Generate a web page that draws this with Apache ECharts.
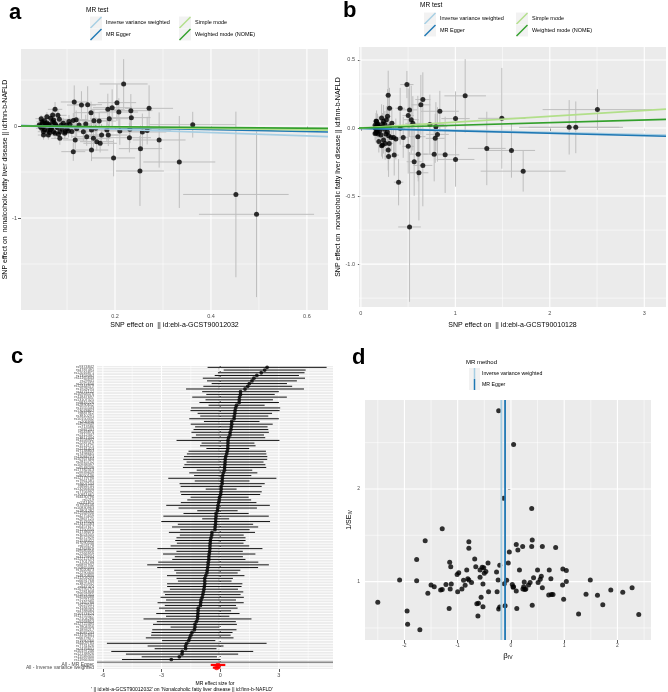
<!doctype html>
<html>
<head>
<meta charset="utf-8">
<title>MR plots</title>
<script src="https://cdn.jsdelivr.net/npm/echarts@6/dist/echarts.min.js"></script>
<style>
  html, body { margin: 0; padding: 0; background: #fff; }
  #main { width: 668px; height: 692px; }
</style>
</head>
<body>
<div id="main"></div>
<script>
// ---- panel a : SNP effects, GCST90012032 -> NAFLD
var aBx = [0.218,0.115,0.130,0.143,0.075,0.150,0.185,0.194,0.204,0.208,
  0.188,0.233,0.234,0.081,0.084,0.046,0.053,0.066,0.072,0.073,
  0.058,0.119,0.139,0.156,0.167,0.134,0.151,0.160,0.183,0.210,
  0.231,0.078,0.092,0.099,0.106,0.047,0.051,0.065,0.072,0.075,
  0.085,0.096,0.103,0.117,0.085,0.061,0.051,0.141,0.155,0.172,
  0.186,0.162,0.169,0.113,0.151,0.197,0.230,0.271,0.362,0.257,
  0.267,0.292,0.253,0.252,0.334,0.452,0.495,0.042,0.050,0.055,
  0.060,0.063,0.068,0.070,0.080,0.082,0.088,0.090,0.095,0.100,
  0.104,0.110,0.058,0.070,0.048,0.053,0.064,0.120,0.125,0.113,
  0.044,0.056,0.062,0.067,0.076,0.049];
var aBy = [0.457,0.261,0.228,0.232,0.181,0.145,0.181,0.199,0.254,0.152,
  0.080,0.167,0.091,0.116,0.073,0.080,0.058,0.083,0.065,0.036,
  0.033,0.069,0.022,0.058,0.054,-0.062,-0.043,-0.025,-0.043,-0.054,
  -0.036,0.000,0.029,0.011,0.018,-0.025,-0.062,-0.043,-0.062,-0.080,
  -0.062,-0.062,-0.054,-0.152,-0.134,-0.098,-0.098,-0.116,-0.134,-0.098,
  -0.098,-0.170,-0.188,-0.279,-0.261,-0.347,-0.127,0.192,0.014,-0.065,
  -0.050,-0.152,-0.246,-0.489,-0.391,-0.744,-0.960,0.010,-0.010,0.025,
  -0.050,0.005,-0.025,0.045,-0.020,-0.090,0.010,-0.035,-0.080,-0.030,
  0.050,-0.060,0.100,0.120,0.045,-0.040,-0.070,-0.030,0.010,0.060,
  -0.005,0.005,0.020,-0.010,0.015,0.030];
var aSx = [0.050,0.028,0.030,0.030,0.015,0.035,0.035,0.040,0.040,0.040,
  0.040,0.045,0.040,0.018,0.018,0.012,0.013,0.015,0.015,0.016,
  0.013,0.025,0.030,0.035,0.035,0.030,0.035,0.035,0.040,0.040,
  0.045,0.016,0.020,0.020,0.022,0.012,0.012,0.014,0.015,0.016,
  0.018,0.020,0.022,0.025,0.018,0.014,0.012,0.030,0.035,0.035,
  0.040,0.035,0.035,0.025,0.035,0.045,0.045,0.050,0.090,0.050,
  0.050,0.055,0.045,0.050,0.075,0.110,0.120,0.010,0.012,0.012,
  0.013,0.014,0.015,0.015,0.017,0.018,0.018,0.019,0.020,0.021,
  0.022,0.023,0.013,0.015,0.012,0.012,0.014,0.025,0.026,0.024,
  0.010,0.012,0.013,0.014,0.016,0.011];
var aSy = [0.27,0.18,0.15,0.20,0.08,0.12,0.17,0.20,0.20,0.15,
  0.14,0.18,0.12,0.06,0.06,0.04,0.05,0.05,0.05,0.05,
  0.04,0.10,0.10,0.12,0.10,0.10,0.10,0.12,0.12,0.15,
  0.15,0.05,0.06,0.06,0.07,0.04,0.05,0.05,0.05,0.06,
  0.06,0.06,0.07,0.10,0.07,0.05,0.05,0.10,0.10,0.12,
  0.12,0.10,0.10,0.10,0.12,0.20,0.16,0.25,0.14,0.20,
  0.15,0.30,0.25,0.38,0.50,0.90,0.90,0.04,0.04,0.04,
  0.05,0.05,0.05,0.05,0.05,0.06,0.06,0.06,0.06,0.07,
  0.07,0.07,0.05,0.06,0.04,0.04,0.05,0.08,0.08,0.08,
  0.04,0.04,0.04,0.05,0.05,0.04];

var mrTests = ['Inverse variance weighted', 'MR Egger', 'Simple mode', 'Weighted mode (NOME)'];
var mrColors = ['#a6cee3', '#1f78b4', '#b2df8a', '#33a02c'];
var aIntercept = [0, 0.005, 0, 0];
var aSlope = [-0.18, -0.11, -0.07, -0.04];

// ---- panel b : SNP effects, GCST90010128 -> NAFLD
var bBx = [0.487,0.289,1.104,0.656,0.635,2.504,0.416,0.303,0.515,0.836,
  0.501,0.282,1.002,1.492,0.533,0.550,0.730,0.794,2.205,2.275,
  0.219,0.240,0.166,0.176,0.254,0.328,0.416,0.222,0.159,0.183,
  0.212,0.265,0.293,0.448,0.346,0.370,0.811,0.787,0.240,0.257,
  0.229,0.300,0.289,0.293,0.353,0.501,0.603,0.607,0.776,0.892,
  1.002,1.333,1.594,1.718,0.564,0.656,0.614,0.399,0.515,0.150,
  0.160,0.170,0.180,0.160,0.200,0.190,0.150,0.170,0.210,0.230,
  0.250,0.280,0.300,0.320,0.270,0.190,0.220,0.155,0.165,0.175];
var bBy = [0.319,0.241,0.236,0.209,0.170,0.135,0.145,0.145,0.133,0.123,
  0.091,0.086,0.069,0.071,0.061,0.034,0.025,0.010,0.005,0.005,
  0.074,0.049,0.049,0.025,0.025,0.034,-0.002,0.005,-0.037,-0.044,
  -0.052,-0.044,-0.057,-0.069,-0.069,-0.081,-0.047,-0.076,-0.088,-0.113,
  -0.125,-0.113,-0.162,-0.209,-0.199,-0.135,-0.064,-0.192,-0.192,-0.197,
  -0.231,-0.150,-0.165,-0.317,-0.248,-0.275,-0.329,-0.398,-0.727,0.020,
  -0.010,0.000,0.030,0.050,-0.020,0.010,-0.040,-0.030,0.000,0.030,
  -0.010,-0.030,0.010,-0.070,0.060,-0.100,-0.130,0.000,0.015,-0.015];
var bSx = [0.07,0.03,0.22,0.08,0.10,0.58,0.05,0.04,0.08,0.20,
  0.06,0.04,0.15,0.25,0.08,0.08,0.15,0.12,0.53,0.50,
  0.03,0.03,0.02,0.02,0.03,0.04,0.05,0.03,0.02,0.02,
  0.03,0.03,0.03,0.05,0.05,0.05,0.12,0.10,0.03,0.03,
  0.03,0.04,0.04,0.04,0.05,0.06,0.08,0.10,0.12,0.15,
  0.20,0.20,0.25,0.45,0.08,0.10,0.10,0.05,0.12,0.02,
  0.02,0.02,0.02,0.02,0.025,0.025,0.02,0.02,0.025,0.03,
  0.03,0.03,0.035,0.04,0.03,0.025,0.03,0.02,0.02,0.02];
var bSy = [0.10,0.18,0.27,0.20,0.22,0.15,0.15,0.15,0.20,0.15,
  0.20,0.20,0.20,0.37,0.25,0.20,0.22,0.18,0.20,0.19,
  0.10,0.12,0.08,0.08,0.10,0.12,0.12,0.08,0.07,0.08,
  0.08,0.10,0.12,0.15,0.12,0.15,0.20,0.18,0.10,0.12,
  0.10,0.12,0.15,0.15,0.15,0.20,0.30,0.20,0.20,0.28,
  0.20,0.27,0.20,0.15,0.25,0.30,0.35,0.17,0.55,0.05,
  0.05,0.05,0.06,0.06,0.06,0.06,0.05,0.05,0.07,0.08,
  0.08,0.10,0.10,0.10,0.10,0.08,0.08,0.05,0.05,0.05];
var bIntercept = [0, -0.003, 0, 0];
var bSlope = [-0.016, -0.018, 0.043, 0.0195];

// ---- panels c and d : single-SNP Wald ratios (GCST90012032 -> NAFLD)
var snpIds = ['rs11966300','rs11589300','rs12138926','rs10197246','rs2476601','rs7731626','rs4409785','rs1990760','rs6679677','rs13192841',
  'rs3087243','rs1893217','rs7804356','rs12722495','rs9268853','rs2104286','rs11755527','rs4788084','rs10774624','rs3184504',
  'rs229541','rs7221109','rs1465788','rs4948088','rs12927355','rs2281808','rs10795791','rs947474','rs3825932','rs6691768',
  'rs11203203','rs4820830','rs2290400','rs7020673','rs10865035','rs6897932','rs1701704','rs12212193','rs3129934','rs2266959',
  'rs9585056','rs4763879','rs653178','rs7090530','rs1534422','rs4572929','rs3024505','rs1738074','rs1250550','rs6457617',
  'rs13415583','rs7578326','rs4275659','rs12568930','rs2867125','rs1801282','rs10830963','rs7903146','rs1111875','rs5219',
  'rs4430796','rs13266634','rs10811661','rs7756992','rs864745','rs4607103','rs12779790','rs7961581','rs8050136','rs9939609',
  'rs17782313','rs6548238','rs10938397','rs2815752','rs10767664','rs11084753','rs7498665','rs7138803','rs2241423','rs1514175',
  'rs2287019','rs1558902','rs3817334','rs2112347','rs543874','rs987237','rs713586','rs4929949','rs206936','rs10150332',
  'rs3810291','rs887912','rs13078807','rs1555543','rs2890652','rs9816226','rs13107325','rs11847697','rs10968576','rs4771122',
  'rs1928295','rs12444979','rs2075650','rs29941','rs11165643','rs7359397','rs12016871','rs4787491','rs9374842'];
var ivBeta = [-2.5,-2.09,-1.95,-1.94,-1.77,-1.77,-1.71,-1.61,-1.56,-1.5,
  -1.44,-1.32,-1.29,-1.29,-1.22,-1.16,-1.15,-1.13,-1.14,-1.12,
  -1.01,-0.98,-1.0,-0.92,-0.89,-0.86,-0.83,-0.81,-0.79,-0.79,
  -0.79,-0.74,-0.68,-0.66,-0.64,-0.62,-0.61,-0.58,-0.58,-0.56,
  -0.54,-0.525,-0.525,-0.51,-0.5,-0.47,-0.43,-0.42,-0.27,-0.26,
  -0.24,-0.23,-0.21,-0.21,-0.23,-0.14,-0.125,-0.11,-0.08,-0.05,
  -0.03,0.05,0.025,0.04,0.05,0.1,0.11,0.1,0.13,0.16,
  0.22,0.225,0.24,0.25,0.26,0.28,0.33,0.36,0.39,0.39,
  0.4,0.4,0.425,0.5,0.51,0.55,0.57,0.59,0.59,0.71,
  0.72,0.75,0.76,0.79,0.84,0.97,0.975,0.99,1.04,1.04,
  1.27,1.41,1.49,1.625,1.725,1.875,2.1,2.275,2.4];
var ivInvSe = [0.777,1.018,0.683,0.54,1.24,1.01,0.48,1.44,0.874,0.964,
  0.946,0.91,1.57,0.914,0.97,0.71,1.21,1.16,0.92,0.975,
  1.076,1.097,0.89,0.92,1.014,0.96,1.126,1.03,1.018,1.43,
  1.36,0.99,1.245,1.16,0.76,0.63,0.766,1.047,1.126,0.83,
  1.155,0.73,0.975,1.15,1.09,1.11,1.2,0.89,1.104,0.89,
  1.018,0.705,0.727,1.176,2.845,1.9,0.978,0.74,1.014,1.2,
  1.32,2.48,0.97,0.94,0.946,0.9,0.709,1.4,1.34,1.126,
  1.38,0.92,0.946,0.996,0.914,0.92,0.964,0.99,1.79,1.38,
  1.45,0.745,1.043,1.126,0.99,1.025,1.058,0.935,1.38,0.856,
  1.126,1.03,0.86,0.86,1.367,0.964,1.137,0.81,1.12,1.0,
  0.65,0.863,1.018,0.853,0.75,0.91,0.885,0.935,0.644];
var mrMethods = ['Inverse variance weighted', 'MR Egger'];
var mrB = [-0.18, -0.11];
var mrSe = [0.10, 0.19];

// ---- axis breaks (ggplot style major / minor)
var aXTicks = [0.2, 0.4, 0.6], aXMinor = [0.1, 0.3, 0.5];
var aYTicks = [-1, 0], aYMinor = [-1.5, -0.5, 0.5];
var bXTicks = [0, 1, 2, 3], bXMinor = [0.5, 1.5, 2.5];
var bYTicks = [-1, -0.5, 0, 0.5], bYMinor = [-1.25, -0.75, -0.25, 0.25];
var cXTicks = [-6, -3, 0, 3], cXMinor = [-4.5, -1.5, 1.5, 4.5];
var dXTicks = [-2, -1, 0, 1, 2], dXMinor = [-2.5, -1.5, -0.5, 0.5, 1.5, 2.5];
var dYTicks = [1, 2], dYMinor = [0.5, 1.5, 2.5];

var lim = {
  a: [0.004, 0.644, -2.0, 0.837],
  b: [-0.02, 3.23, -1.315, 0.595],
  c: [-6.3, 5.77],
  d: [-2.74, 2.63, 0.37, 2.96]
};

var FONT = '"Liberation Sans", Arial, Helvetica, sans-serif';
var PANEL_BG = '#ebebeb';

function gridData(vMaj, vMin, hMaj, hMin) {
  var out = [];
  vMaj.forEach(function (v) { out.push([v, 0, 1.1]); });
  vMin.forEach(function (v) { out.push([v, 0, 0.55]); });
  hMaj.forEach(function (v) { out.push([v, 1, 1.1]); });
  hMin.forEach(function (v) { out.push([v, 1, 0.55]); });
  return out;
}

function renderGridLine(params, api) {
  var cs = params.coordSys;
  var v = api.value(0), o = api.value(1), w = api.value(2);
  if (o === 0) {
    var x = api.coord([v, 0])[0];
    return { type: 'line', silent: true, shape: { x1: x, y1: cs.y, x2: x, y2: cs.y + cs.height },
      style: { stroke: '#fff', lineWidth: w } };
  }
  var y = api.coord([0, v])[1];
  return { type: 'line', silent: true, shape: { x1: cs.x, y1: y, x2: cs.x + cs.width, y2: y },
    style: { stroke: '#fff', lineWidth: w } };
}

function gridSeries(idx, data) {
  return { type: 'custom', xAxisIndex: idx, yAxisIndex: idx, z: 1, silent: true,
    renderItem: renderGridLine, data: data, clip: true };
}

function renderErr(params, api) {
  var x = api.value(0), y = api.value(1), sx = api.value(2), sy = api.value(3);
  var h1 = api.coord([x - sx, y]), h2 = api.coord([x + sx, y]);
  var v1 = api.coord([x, y - sy]), v2 = api.coord([x, y + sy]);
  var st = { stroke: '#bebebe', lineWidth: 1 };
  return { type: 'group', children: [
    { type: 'line', shape: { x1: h1[0], y1: h1[1], x2: h2[0], y2: h2[1] }, style: st },
    { type: 'line', shape: { x1: v1[0], y1: v1[1], x2: v2[0], y2: v2[1] }, style: st }
  ] };
}

function zip2(a, b) { return a.map(function (v, i) { return [v, b[i]]; }); }
function zip4(a, b, c, d) { return a.map(function (v, i) { return [v, b[i], c[i], d[i]]; }); }

function abSeries(idx, xmin, xmax, inter, slope) {
  return mrTests.map(function (name, i) {
    return {
      name: name, type: 'line', xAxisIndex: idx, yAxisIndex: idx, z: 4,
      showSymbol: false, silent: true, clip: true,
      lineStyle: { color: mrColors[i], width: 1.6 },
      data: [[xmin, inter[i] + slope[i] * xmin], [xmax, inter[i] + slope[i] * xmax]]
    };
  });
}

function valAxis(gi, min, max, ticks, fmt, size, margin, extra) {
  var ax = {
    type: 'value', gridIndex: gi, min: min, max: max,
    axisLine: { show: false },
    axisTick: { show: true, customValues: ticks, length: 3, lineStyle: { color: '#333', width: 0.8 } },
    axisLabel: { customValues: ticks, formatter: fmt, color: '#4d4d4d', fontSize: size, margin: margin, fontFamily: FONT },
    splitLine: { show: false }
  };
  for (var k in extra) ax[k] = extra[k];
  return ax;
}

function intFmt(v) { return String(Math.round(v)); }
function oneDec(v) { return v.toFixed(1); }

// ---- forest plot rows
var order = ivBeta.map(function (b, i) { return i; }).sort(function (p, q) { return ivBeta[p] - ivBeta[q]; });
var forestCats = [
  { value: 'All - Inverse variance weighted', textStyle: { fontSize: 5 } },
  { value: 'All - MR Egger', textStyle: { fontSize: 5 } },
  { value: '' }
].concat(order.map(function (i) { return snpIds[i]; }));
var forestBars = [], forestPts = [];
mrB.forEach(function (b, k) {
  forestBars.push([b - 1.96 * mrSe[k], k, b + 1.96 * mrSe[k], 1]);
  forestPts.push({ value: [b, k], symbolSize: 5, itemStyle: { color: '#ff0000' } });
});
order.forEach(function (i, k) {
  var se = 1 / ivInvSe[i];
  forestBars.push([ivBeta[i] - 1.96 * se, k + 3, ivBeta[i] + 1.96 * se, 0]);
  forestPts.push([ivBeta[i], k + 3]);
});
var cYGrid = forestCats.map(function (c, i) { return [i, 1, 0.9]; });

var chart = echarts.init(document.getElementById('main'), null, { renderer: 'canvas' });

function diagKey(x, y, color) {
  return [
    { type: 'rect', shape: { x: x, y: y, width: 12, height: 12 }, style: { fill: '#f2f2f2' } },
    { type: 'line', shape: { x1: x + 0.5, y1: y + 11.5, x2: x + 11.5, y2: y + 0.5 }, style: { stroke: color, lineWidth: 1.5 } }
  ];
}
function vKey(x, y, color) {
  return [
    { type: 'rect', shape: { x: x, y: y, width: 11, height: 11 }, style: { fill: '#f2f2f2' } },
    { type: 'line', shape: { x1: x + 5.5, y1: y, x2: x + 5.5, y2: y + 11 }, style: { stroke: color, lineWidth: 1.5 } }
  ];
}
function txt(x, y, s, size, extra) {
  var st = { text: s, x: x, y: y, fontSize: size, fontFamily: FONT, fill: '#000', textVerticalAlign: 'middle' };
  for (var k in extra) st[k] = extra[k];
  return { type: 'text', style: st };
}

function mrLegend(x0, yTitle, yRow, col2) {
  var els = [txt(x0, yTitle, 'MR test', 6.5)];
  var kx = [x0 + 4, col2], rows = [yRow, yRow + 12];
  mrTests.forEach(function (name, i) {
    var col = i < 2 ? 0 : 1, row = i % 2;
    els = els.concat(diagKey(kx[col], rows[row], mrColors[i]));
    els.push(txt(kx[col] + 16, rows[row] + 6, name, 5.5));
  });
  return els;
}

var graphics = [
  txt(9, 13, 'a', 22, { fontWeight: 'bold' }),
  txt(343, 11, 'b', 22, { fontWeight: 'bold' }),
  txt(11, 357, 'c', 22, { fontWeight: 'bold' }),
  txt(352, 358, 'd', 22, { fontWeight: 'bold' }),
  txt(215, 683.5, 'MR effect size for', 5, { textAlign: 'center', fill: '#000' }),
  txt(182, 690, "' || id:ebi-a-GCST90012032' on 'Nonalcoholic fatty liver disease || id:finn-b-NAFLD'", 5, { textAlign: 'center', fill: '#000' }),
  txt(466, 362, 'MR method', 6)
].concat(mrLegend(86, 10, 16.5, 179)).concat(mrLegend(420, 5.5, 12.5, 516));
mrMethods.forEach(function (name, i) {
  graphics = graphics.concat(vKey(469, 368 + 11 * i, mrColors[i]));
  graphics.push(txt(482, 373.5 + 11 * i, name, 5.2));
});

var titleStyle = { fontSize: 7, color: '#000', fontFamily: FONT };
var yTitleA = 'SNP effect on  nonalcoholic fatty liver disease || id:finn-b-NAFLD';

var option = {
  animation: false,
  backgroundColor: '#fff',
  grid: [
    { left: 21, top: 49, width: 307, height: 261, show: true, backgroundColor: PANEL_BG, borderWidth: 0 },
    { left: 359, top: 47, width: 307, height: 260, show: true, backgroundColor: PANEL_BG, borderWidth: 0 },
    { left: 97, top: 366, width: 236, height: 303, show: true, backgroundColor: PANEL_BG, borderWidth: 0 },
    { left: 365, top: 400, width: 286, height: 240, show: true, backgroundColor: PANEL_BG, borderWidth: 0 }
  ],
  xAxis: [
    valAxis(0, lim.a[0], lim.a[1], aXTicks, oneDec, 5.5, 3,
      { name: 'SNP effect on  || id:ebi-a-GCST90012032', nameLocation: 'middle', nameGap: 12, nameTextStyle: titleStyle }),
    valAxis(1, lim.b[0], lim.b[1], bXTicks, intFmt, 5.5, 3,
      { name: 'SNP effect on  || id:ebi-a-GCST90010128', nameLocation: 'middle', nameGap: 15, nameTextStyle: titleStyle }),
    valAxis(2, lim.c[0], lim.c[1], cXTicks, intFmt, 5.5, 3, {}),
    valAxis(3, lim.d[0], lim.d[1], dXTicks, intFmt, 5, 3,
      { name: '{b|β}{s|IV}', nameLocation: 'middle', nameGap: 11,
        nameTextStyle: { rich: { b: { fontSize: 8, fontFamily: FONT, color: '#000' }, s: { fontSize: 5, fontFamily: FONT, color: '#000', padding: [4, 0, 0, 0] } } } })
  ],
  yAxis: [
    valAxis(0, lim.a[2], lim.a[3], aYTicks, intFmt, 5.5, 4,
      { name: yTitleA, nameLocation: 'middle', nameGap: 11, nameTextStyle: titleStyle }),
    valAxis(1, lim.b[2], lim.b[3], bYTicks, oneDec, 5.5, 4,
      { name: yTitleA, nameLocation: 'middle', nameGap: 17, nameTextStyle: titleStyle }),
    {
      type: 'category', gridIndex: 2, data: forestCats,
      axisLine: { show: false },
      axisTick: { show: true, alignWithLabel: true, interval: 0, length: 2, lineStyle: { color: '#333', width: 0.4 } },
      axisLabel: { interval: 0, fontSize: 3.8, color: '#4d4d4d', margin: 3, fontFamily: FONT },
      splitLine: { show: false }
    },
    valAxis(3, lim.d[2], lim.d[3], dYTicks, intFmt, 5, 5,
      { name: '{n|1/SE}{s|IV}', nameLocation: 'middle', nameGap: 10,
        nameTextStyle: { rich: { n: { fontSize: 7, fontFamily: FONT, color: '#000' }, s: { fontSize: 4.5, fontFamily: FONT, color: '#000', padding: [3, 0, 0, 0] } } } })
  ],
  graphic: graphics,
  series: [].concat(
    [
      gridSeries(0, gridData(aXTicks, aXMinor, aYTicks, aYMinor)),
      { type: 'custom', xAxisIndex: 0, yAxisIndex: 0, z: 2, clip: true, silent: true,
        renderItem: renderErr, data: zip4(aBx, aBy, aSx, aSy) },
      { type: 'scatter', xAxisIndex: 0, yAxisIndex: 0, z: 3, symbolSize: 5,
        itemStyle: { color: '#000' }, data: zip2(aBx, aBy) }
    ],
    abSeries(0, lim.a[0], lim.a[1], aIntercept, aSlope),
    [
      gridSeries(1, gridData(bXTicks, bXMinor, bYTicks, bYMinor)),
      { type: 'custom', xAxisIndex: 1, yAxisIndex: 1, z: 2, clip: true, silent: true,
        renderItem: renderErr, data: zip4(bBx, bBy, bSx, bSy) },
      { type: 'scatter', xAxisIndex: 1, yAxisIndex: 1, z: 3, symbolSize: 5,
        itemStyle: { color: '#000' }, data: zip2(bBx, bBy) }
    ],
    abSeries(1, lim.b[0], lim.b[1], bIntercept, bSlope),
    [
      gridSeries(2, gridData(cXTicks, cXMinor, [], []).concat(cYGrid)),
      { type: 'custom', xAxisIndex: 2, yAxisIndex: 2, z: 2, silent: true, data: [[0, 0]],
        renderItem: function (params, api) {
          var cs = params.coordSys, x = api.coord([0, 0])[0];
          return { type: 'line', shape: { x1: x, y1: cs.y, x2: x, y2: cs.y + cs.height },
            style: { stroke: '#333', lineWidth: 1, lineDash: [1, 4] } };
        } },
      { type: 'custom', xAxisIndex: 2, yAxisIndex: 2, z: 3, clip: true, silent: true,
        encode: { x: [0, 2], y: 1 }, data: forestBars,
        renderItem: function (params, api) {
          var p1 = api.coord([api.value(0), api.value(1)]), p2 = api.coord([api.value(2), api.value(1)]);
          var red = api.value(3) === 1;
          return { type: 'line', shape: { x1: p1[0], y1: p1[1], x2: p2[0], y2: p2[1] },
            style: { stroke: red ? '#ff0000' : '#111', lineWidth: red ? 2.2 : 1 } };
        } },
      { type: 'scatter', xAxisIndex: 2, yAxisIndex: 2, z: 4, symbolSize: 3.8,
        itemStyle: { color: '#000' }, data: forestPts },
      { type: 'custom', xAxisIndex: 2, yAxisIndex: 2, z: 5, silent: true, data: [[0, 2]],
        renderItem: function (params, api) {
          var cs = params.coordSys, y = api.coord([0, 2])[1];
          return { type: 'line', shape: { x1: cs.x, y1: y, x2: cs.x + cs.width, y2: y },
            style: { stroke: '#8c8c8c', lineWidth: 1.5 } };
        } },

      gridSeries(3, gridData(dXTicks, dXMinor, dYTicks, dYMinor)),
      { type: 'scatter', xAxisIndex: 3, yAxisIndex: 3, z: 3, symbolSize: 5,
        itemStyle: { color: '#000' }, data: zip2(ivBeta, ivInvSe) },
      { type: 'custom', xAxisIndex: 3, yAxisIndex: 3, z: 4, silent: true,
        data: mrB.map(function (b, i) { return [b, 1, i]; }),
        renderItem: function (params, api) {
          var cs = params.coordSys, x = api.coord([api.value(0), 1])[0];
          return { type: 'line', shape: { x1: x, y1: cs.y, x2: x, y2: cs.y + cs.height },
            style: { stroke: mrColors[api.value(2)], lineWidth: 1.8 } };
        } }
    ]
  )
};

chart.setOption(option);
</script>
</body>
</html>
